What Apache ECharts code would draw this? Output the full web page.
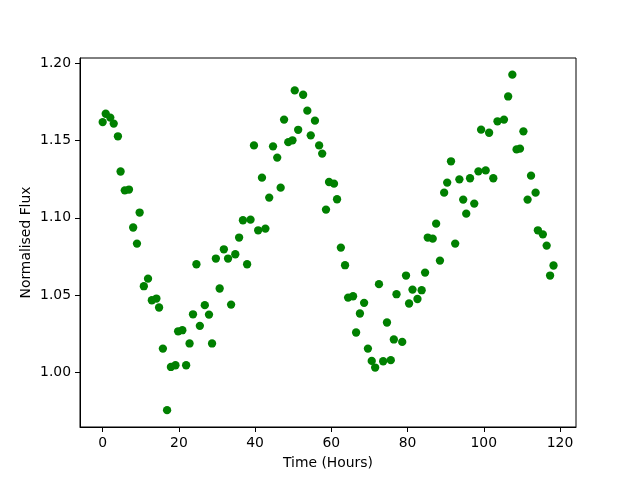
<!DOCTYPE html>
<html>
<head>
<meta charset="utf-8">
<script src="https://cdn.jsdelivr.net/npm/echarts@6/dist/echarts.min.js"></script>
<style>
  html, body { margin: 0; padding: 0; background: #fff; }
  #chart { width: 640px; height: 480px; }
</style>
</head>
<body>
<div id="chart"></div>
<script>
// time in hours
const timeHours = [
  0, 0.8, 2.0, 2.9, 4.0, 4.7, 5.8, 6.9, 8.0, 9.0,
  9.7, 10.8, 11.9, 12.9, 14.1, 14.8, 15.8, 16.9, 17.9, 19.1,
  19.8, 20.9, 21.9, 22.8, 23.7, 24.6, 25.5, 26.8, 27.9, 28.7,
  29.7, 30.7, 31.8, 32.9, 33.7, 34.8, 35.8, 36.8, 37.9, 38.8,
  39.7, 40.8, 41.8, 42.7, 43.7, 44.7, 45.8, 46.7, 47.6, 48.7,
  49.8, 50.4, 51.3, 52.6, 53.7, 54.6, 55.7, 56.8, 57.6, 58.6,
  59.4, 60.7, 61.5, 62.5, 63.6, 64.4, 65.7, 66.5, 67.5, 68.6,
  69.6, 70.6, 71.5, 72.5, 73.6, 74.6, 75.6, 76.4, 77.1, 78.6,
  79.6, 80.4, 81.3, 82.6, 83.7, 84.6, 85.3, 86.6, 87.5, 88.5,
  89.6, 90.4, 91.4, 92.5, 93.6, 94.6, 95.4, 96.4, 97.5, 98.6,
  99.3, 100.5, 101.4, 102.5, 103.6, 105.3, 106.4, 107.5, 108.6, 109.5,
  110.4, 111.5, 112.4, 113.6, 114.2, 115.5, 116.5, 117.4, 118.3
]

// normalised flux
const flux = [
  1.162, 1.1674, 1.1649, 1.161, 1.1528, 1.130, 1.1178, 1.1183, 1.0937, 1.0833,
  1.1034, 1.0557, 1.0606, 1.0466, 1.0477, 1.0419, 1.0153, 0.9754, 1.0034, 1.0045,
  1.0265, 1.0272, 1.0045, 1.0186, 1.0375, 1.0699, 1.030, 1.0434, 1.0373, 1.0186,
  1.0736, 1.0542, 1.0796, 1.0736, 1.0438, 1.0764, 1.0872, 1.0984, 1.0699, 1.0988,
  1.1469, 1.0919, 1.126, 1.093, 1.1131, 1.1463, 1.139, 1.1195, 1.1636, 1.149,
  1.1502, 1.1825, 1.157, 1.1797, 1.1694, 1.1534, 1.1629, 1.1469, 1.1416, 1.1053,
  1.1232, 1.1221, 1.112, 1.0807, 1.0693, 1.0483, 1.0492, 1.0257, 1.038, 1.0449,
  1.0153, 1.0073, 1.003, 1.057, 1.0071, 1.0322, 1.0078, 1.0212, 1.0505, 1.0196,
  1.0626, 1.0445, 1.0535, 1.0474, 1.0531, 1.0645, 1.0872, 1.0865, 1.0962, 1.0723,
  1.1163, 1.1228, 1.1366, 1.0833, 1.1249, 1.1118, 1.1027, 1.1256, 1.1092, 1.1301,
  1.1571, 1.1307, 1.1551, 1.1256, 1.1625, 1.1636, 1.1786, 1.1927, 1.1443, 1.1448,
  1.156, 1.1118, 1.1273, 1.1163, 1.0919, 1.0893, 1.082, 1.0626, 1.0691
]

const xTicks = [0, 20, 40, 60, 80, 100, 120]
const yTicks = [1.00, 1.05, 1.10, 1.15, 1.20]

const points = timeHours.map((t, i) => [t, flux[i]])

const font = 'DejaVu Sans'
const chart = echarts.init(document.getElementById('chart'))

chart.setOption({
  animation: false,
  grid: {
    left: 80, right: 64, top: 58, bottom: 53,
    show: true, borderColor: '#000', borderWidth: 1
  },
  xAxis: {
    type: 'value',
    min: -5.95, max: 124.2,
    name: 'Time (Hours)',
    nameLocation: 'middle',
    nameGap: 29,
    nameMoveOverlap: false,
    nameTextStyle: { fontFamily: font, fontSize: 13.9, color: '#000' },
    splitLine: { show: false },
    axisLine: { show: true, onZero: false, lineStyle: { color: '#000' } },
    axisTick: { show: true, inside: false, length: 5, customValues: xTicks, lineStyle: { color: '#000' } },
    axisLabel: {
      customValues: xTicks, margin: 9,
      fontFamily: font, fontSize: 13.9, color: '#000'
    }
  },
  yAxis: {
    type: 'value',
    min: 0.9645, max: 1.2035,
    name: 'Normalised Flux',
    nameLocation: 'middle',
    nameGap: 47,
    nameMoveOverlap: false,
    nameTextStyle: { fontFamily: font, fontSize: 13.9, color: '#000' },
    splitLine: { show: false },
    axisLine: { show: true, onZero: false, lineStyle: { color: '#000' } },
    axisTick: { show: true, inside: false, length: 5, customValues: yTicks, lineStyle: { color: '#000' } },
    axisLabel: {
      customValues: yTicks, margin: 9,
      fontFamily: font, fontSize: 13.9, color: '#000',
      formatter: v => v.toFixed(2)
    }
  },
  series: [{
    type: 'scatter',
    data: points,
    symbol: 'circle',
    symbolSize: 8.3,
    itemStyle: { color: '#008000', opacity: 1 }
  }]
})
</script>
</body>
</html>
